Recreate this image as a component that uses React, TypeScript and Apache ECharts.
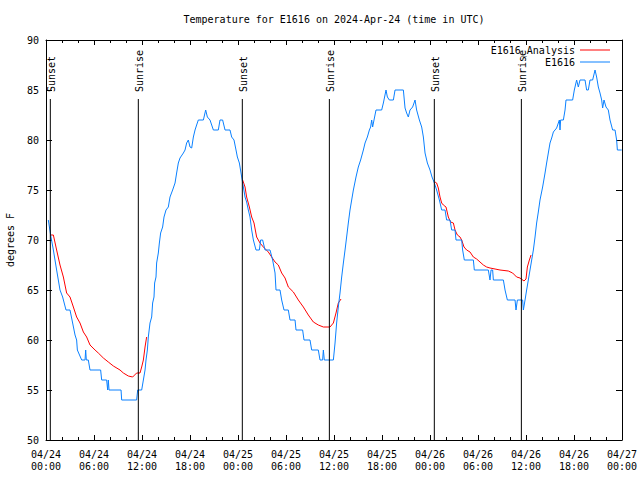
import React, { useEffect, useRef } from "react";
import * as echarts from "echarts";

const FONT = '"DejaVu Sans Mono", "Liberation Mono", monospace';

const titleText = "Temperature for E1616 on 2024-Apr-24 (time in UTC)";
const yAxisName = "degrees F";
const xTickLabels = [
  "04/24\n00:00", "04/24\n06:00", "04/24\n12:00", "04/24\n18:00",
  "04/25\n00:00", "04/25\n06:00", "04/25\n12:00", "04/25\n18:00",
  "04/26\n00:00", "04/26\n06:00", "04/26\n12:00", "04/26\n18:00",
  "04/27\n00:00",
];

// hours since 2024-04-24 00:00 UTC, temperature (F)
const e1616: [number, number][] = [
  [0.29,72],[0.58,70.5],[0.92,69],[1.33,67],[1.75,65],[2.08,64.3],[2.5,63],[3.0,63],[3.33,61.7],[3.63,60.5],[3.83,60],[3.92,59],[4.46,58],[4.88,58],[4.96,59],[5.04,58],[5.29,58],[5.5,57],[6.83,57],[6.96,56],[7.58,56],[7.71,55],[7.79,56],[7.88,55],[9.38,55],[9.46,54],[11.33,54],[11.46,55],[11.96,55],[12.17,56],[12.38,57],[12.5,58],[12.67,59],[12.79,60.3],[13.0,61.7],[13.21,62.3],[13.33,63.7],[13.5,64.3],[13.58,65.7],[13.75,66.3],[13.83,67.7],[14.04,68.7],[14.17,69.7],[14.33,70.7],[14.58,71.3],[14.75,72.3],[15.0,73],[15.29,73.3],[15.5,74.3],[15.83,75],[16.13,75.7],[16.33,76.7],[16.54,77.7],[16.75,78.2],[17.17,78.7],[17.38,79],[17.58,79.7],[17.79,80],[18.0,79.3],[18.21,79.2],[18.42,80.3],[18.63,81],[18.83,81.5],[19.04,82],[19.67,82],[19.96,83],[20.17,82.3],[20.5,82],[20.92,81],[21.54,81],[21.75,82],[22.08,82],[22.38,81],[23.0,81],
  [23.21,80.3],[23.5,80],[23.75,79],[23.92,78.3],[24.17,77.7],[24.46,76.3],[24.67,75.3],[24.88,74.3],[25.08,73.8],[25.29,73],[25.5,72.3],[25.71,71],[25.92,70],[26.25,69],[26.67,69],[26.83,70],[27.08,70],[27.38,69],[28.0,69],[28.33,68],[28.63,66.7],[28.75,65],[29.25,65],[29.46,64],[29.75,63],[30.29,63],[30.5,62],[31.13,62],[31.25,61],[32.08,61],[32.25,60],[33.0,60],[33.21,59],[34.04,59],[34.25,58],[34.58,58],[34.67,59],[34.79,58],[35.92,58],[36.13,59.7],[36.33,61.7],[36.54,63.3],[36.75,64.7],[36.96,66.3],[37.17,67.7],[37.38,69],[37.58,70.3],[37.79,71.7],[38.0,73],[38.21,74],[38.42,75],[38.75,76.3],[39.04,77.3],[39.33,78],[39.67,79],[39.88,79.7],[40.17,80.3],[40.42,81],[40.58,81.3],[40.71,82],[40.83,81.3],[41.0,82],[41.25,83],[41.96,83],[42.17,83.7],[42.5,85],[42.67,84.3],[42.92,84],[43.42,84],[43.63,85],[44.67,85],[44.88,83.2],[45.08,82.7],[45.29,82.3],[45.5,83],[45.83,83.3],[46.13,84],[46.33,83],[46.67,82],[46.96,81.3],[47.17,80.3],[47.38,78.7],[47.67,77.7],[48.0,77],[48.25,76.3],[48.5,75.8],[48.83,75],
  [49.17,74],[49.46,73],[49.88,73],[50.08,72],[50.5,72],[50.71,71],[51.13,71],[51.25,70],[51.96,70],[52.08,69],[52.29,68],[53.42,68],[53.54,67],[55.29,67],[55.5,66],[55.63,67],[55.83,67],[55.92,66],[57.17,66],[57.38,65],[57.67,64],[58.63,64],[58.75,63],[58.92,64],[59.58,64],[59.67,63],[59.88,64],[60.08,65],[60.29,66],[60.5,67],[60.71,68],[60.92,69],[61.13,70.3],[61.33,71.7],[61.54,72.8],[61.75,74],[62.08,75.3],[62.38,76.7],[62.58,77.7],[62.79,78.7],[63.0,79.7],[63.21,80.2],[63.42,80.8],[63.83,81.2],[64.17,82],[64.25,81],[64.33,82],[64.67,82],[64.88,83],[65.0,84],[65.83,84],[66.04,85],[66.33,86],[66.54,85.3],[66.75,86],[67.38,86],[67.58,85],[67.79,85],[68.0,86],[68.33,86],[68.63,87],[68.83,86.3],[69.04,85.3],[69.25,84.7],[69.46,84],[69.58,83.2],[69.75,84],[70.0,83.3],[70.29,83],[70.5,82],[70.83,81],[71.13,81],[71.33,80],[71.42,79],[71.96,79],
];

const analysisNight1: [number, number][] = [
  [0.58,70.5],[0.92,70.5],[1.33,69],[1.75,67.5],[2.17,66.3],[2.58,64.7],[3.0,64.3],[3.42,63.3],[3.83,62.3],[4.25,61.7],[4.67,60.8],[5.08,60.3],[5.5,59.5],[6.13,59],[6.54,58.7],[7.17,58.2],[7.79,57.8],[8.42,57.4],[9.25,57],[9.67,56.7],[10.29,56.4],[10.83,56.3],[11.33,56.7],[11.75,56.7],[11.96,57.3],[12.17,58],[12.38,59.3],[12.58,60.3],
];
const analysisNight2: [number, number][] = [
  [24.58,76],[24.88,75.3],[25.08,74.3],[25.42,73.3],[25.71,72.3],[26.0,71.7],[26.33,70.3],[26.75,69.7],[27.17,69.3],[27.79,68.8],[28.21,68.3],[28.63,67.8],[29.04,67.5],[29.46,66.7],[29.88,66.2],[30.29,65.3],[30.92,64.8],[31.54,64],[32.17,63.3],[32.79,62.5],[33.42,61.8],[34.04,61.5],[34.67,61.3],[35.5,61.3],[35.92,61.7],[36.25,62.7],[36.54,63.7],[36.88,64.1],
];
const analysisNight3: [number, number][] = [
  [48.63,75.8],[48.83,75.7],[49.04,75.2],[49.25,74.3],[49.46,73.7],[49.67,73.5],[50.0,73.3],[50.29,72.3],[50.58,71.8],[50.92,71.7],[51.13,71],[51.42,70.5],[51.75,70.3],[51.96,70],[52.25,69.3],[52.58,69],[53.0,68.8],[53.42,68.3],[53.83,68.1],[54.25,67.8],[54.67,67.5],[55.08,67.3],[55.5,67.2],[56.13,67.1],[56.75,67],[57.79,66.9],[58.33,66.7],[58.83,66.3],[59.25,66.2],[59.75,65.9],[60.0,66.1],[60.17,67.3],[60.42,68],[60.63,68.5],
];

const sunEventHours = [0.54, 11.54, 24.54, 35.42, 48.54, 59.42];
const sunEventLabels = ["Sunset", "Sunrise", "Sunset", "Sunrise", "Sunset", "Sunrise"];

const MARKER_TOP = 84.1;
const RED = "#ff0000";
const BLUE = "#0a80ff";

export default function App() {
  const ref = useRef<HTMLDivElement>(null);
  useEffect(() => {
    if (!ref.current) return;
    const chart = echarts.init(ref.current, null, { renderer: "svg" });
    const baseX = {
      type: "value" as const,
      min: 0,
      max: 72,
      interval: 6,
      axisLine: { show: true, onZero: false, lineStyle: { color: "#000", width: 1 } },
      axisTick: { show: true, inside: true, length: 5, lineStyle: { color: "#000" } },
      minorTick: { show: true, splitNumber: 3, length: 3, lineStyle: { color: "#000" } },
      splitLine: { show: false },
      minorSplitLine: { show: false },
    };
    const baseY = {
      type: "value" as const,
      min: 50,
      max: 90,
      interval: 5,
      axisLine: { show: true, onZero: false, lineStyle: { color: "#000", width: 1 } },
      axisTick: { show: true, inside: true, length: 6, lineStyle: { color: "#000" } },
      splitLine: { show: false },
    };
    const analysisSeries = [analysisNight1, analysisNight2, analysisNight3].map((d) => ({
      name: "E1616_Analysis",
      type: "line",
      data: d,
      showSymbol: false,
      symbol: "none",
      color: RED,
      lineStyle: { color: RED, width: 1 },
      z: 3,
    }));
    chart.setOption({
      animation: false,
      backgroundColor: "#fff",
      textStyle: { fontFamily: FONT },
      title: {
        text: titleText,
        left: 334,
        top: 14,
        padding: 0,
        textAlign: "center",
        textStyle: { fontFamily: FONT, fontSize: 10, fontWeight: "normal", color: "#000" },
      },
      legend: {
        orient: "vertical",
        right: 30,
        top: 44,
        padding: 0,
        align: "right",
        icon: "rect",
        itemWidth: 30,
        itemHeight: 1,
        itemGap: 0,
        data: ["E1616_Analysis", "E1616"],
        textStyle: { fontFamily: FONT, fontSize: 10, color: "#000", lineHeight: 12 },
      },
      grid: { left: 46, right: 18, top: 40, bottom: 40, containLabel: false, outerBoundsMode: "none" },
      xAxis: [
        {
          ...baseX,
          position: "bottom",
          axisLabel: {
            show: true,
            fontFamily: FONT,
            fontSize: 10,
            color: "#000",
            lineHeight: 12,
            margin: 8,
            formatter: (v: number) => xTickLabels[Math.round(v / 6)] ?? "",
          },
        },
        { ...baseX, position: "top", axisLabel: { show: false } },
      ],
      yAxis: [
        {
          ...baseY,
          position: "left",
          name: yAxisName,
          nameLocation: "middle",
          nameRotate: 90,
          nameGap: 31,
          nameTextStyle: { fontFamily: FONT, fontSize: 10, color: "#000" },
          axisLabel: { show: true, fontFamily: FONT, fontSize: 10, color: "#000", margin: 7 },
        },
        { ...baseY, position: "right", axisLabel: { show: false } },
      ],
      series: [
        ...analysisSeries,
        {
          name: "E1616",
          type: "line",
          data: e1616,
          showSymbol: false,
          symbol: "none",
          color: BLUE,
          lineStyle: { color: BLUE, width: 1 },
          z: 4,
        },
        {
          name: "sun",
          type: "custom",
          data: sunEventHours.map((h) => [h]),
          encode: { x: 0 },
          z: 5,
          silent: true,
          renderItem: (params: any, api: any) => {
            const h = api.value(0);
            const p1 = api.coord([h, 50]);
            const p2 = api.coord([h, MARKER_TOP]);
            return {
              type: "group",
              children: [
                {
                  type: "line",
                  shape: { x1: p1[0], y1: p1[1], x2: p2[0], y2: p2[1] },
                  style: { stroke: "#000", lineWidth: 1 },
                },
                {
                  type: "text",
                  x: p2[0] + 1,
                  y: p2[1] - 7,
                  rotation: Math.PI / 2,
                  style: {
                    text: sunEventLabels[params.dataIndex],
                    fill: "#000",
                    font: `10px ${FONT}`,
                    align: "left",
                    verticalAlign: "middle",
                  },
                },
              ],
            };
          },
        },
      ],
    });
    return () => chart.dispose();
  }, []);
  return (
    <div
      ref={ref}
      style={{ position: "fixed", left: 0, top: 0, width: 640, height: 480, background: "#fff" }}
    />
  );
}
